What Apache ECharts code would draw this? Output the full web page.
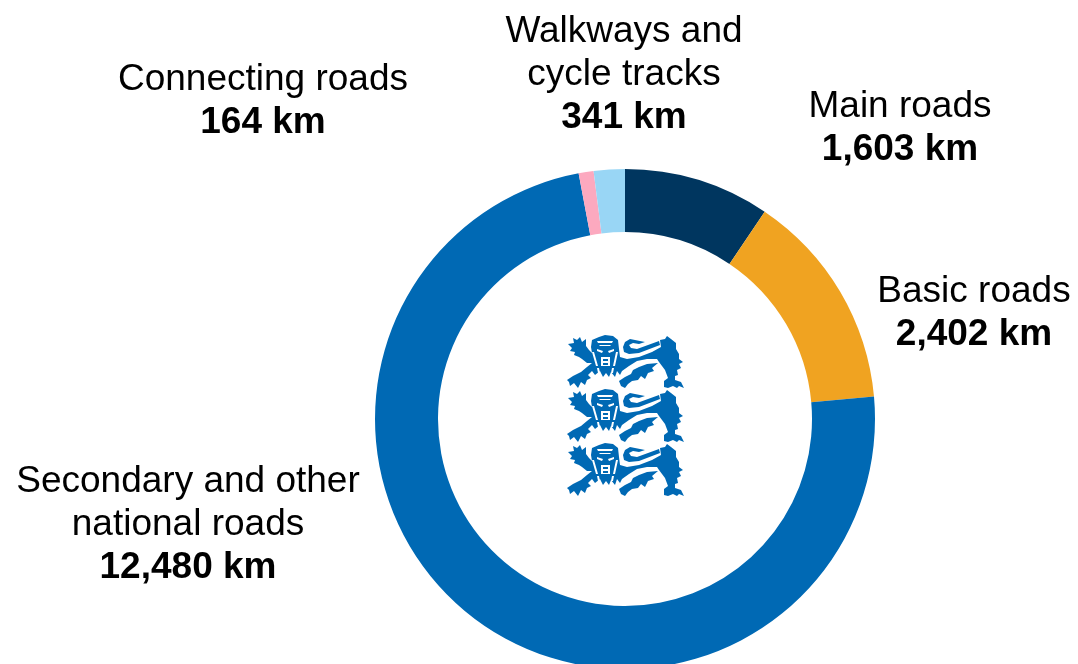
<!DOCTYPE html>
<html>
<head>
<meta charset="utf-8">
<style>
  html, body { margin: 0; padding: 0; background: #fff; }
  #chart { width: 1078px; height: 664px; }
</style>
<script src="https://cdn.jsdelivr.net/npm/echarts@6/dist/echarts.min.js"></script>
</head>
<body>
<div id="chart"></div>
<script>
const names = ['Main roads', 'Basic roads', 'Secondary and other\nnational roads', 'Connecting roads', 'Walkways and\ncycle tracks']
const lengths = [1603, 2402, 12480, 164, 341]
const colors = ['#00365f', '#f0a321', '#0069b4', '#fca9bf', '#99d6f5']
// label anchor (centre of the text block) for each slice
const labelSpots = [[900, 126], [974, 311], [188, 523], [263, 99], [624, 73]]

// one lion, drawn in a 0-117 x 0-53 box, repeated three times
const lionBody = 'M1 9 L7 8 L6 3 L10 5 L13 2 L15 7 L19 4 L19 11 L22 15 L25 18 L24 12 L25 5 L32 2 L38 0 L46 1 L51 5 L52 14 L53 22 L60 24 L72 22 L85 17 L94 12 L93 5 L98 4 L100 1 L104 4 L109 8 L109 14 L112 19 L112 24 L116 27 L112 29 L114 33 L110 35 L111 40 L108 41 L108 45 L114 47 L117 53 L112 51 L110 53 L106 51 L101 53 L97 52 L97 46 L101 43 L98 35 L92 27 L90 24 L80 24 L70 26 L62 31 L55 36 L53 40 L50 36 L48 42 L44 37 L42 42 L39 38 L36 42 L33 36 L28 40 L25 36 L21 40 L24 43 L20 45 L18 50 L14 47 L11 53 L7 48 L3 51 L2 47 L0 45 L6 41 L14 37 L20 32 L25 28 L20 28 L15 24 L12 22 L7 20 L8 17 L3 16 L5 13 Z'
const lionHind = 'M91 28 L85 33 L87 36 L81 38 L78 44 L74 41 L71 45 L65 46 L61 49 L58 53 L54 51 L52 46 L58 42 L64 39 L66 35 L72 32 L80 29 Z M56 12 L58 7 L63 4 L68 5 L78 7 L72 9 L66 8 L62 10 L64 13 L70 14 L92 6 L93 10 L72 18 L62 19 L57 17 Z'
const lionFace = 'M30 6 L46 6 L45 8 L31 8 Z M32 10 L44 10 L43 11 L33 11 Z M30 14 L36 16 L35 18 L30 16 Z M47 14 L41 16 L42 18 L47 16 Z M34 22 L43 22 L43 31 L34 31 Z M25 17 L27 17 L31 31 L29 31 Z M51 17 L49 17 L46 31 L48 31 Z M30 33 L32 33 L33 38 L31 38 Z M45 33 L47 33 L46 38 L44 38 Z'
const lionNose = 'M36 24 L41 24 L41 26 L36 26 Z M36 28 L41 28 L41 30 L36 30 Z'
const lionTops = [335, 389, 443]

echarts.graphic.registerShape('lionBody', echarts.graphic.extendPath(lionBody, {}))
echarts.graphic.registerShape('lionHind', echarts.graphic.extendPath(lionHind, {}))
echarts.graphic.registerShape('lionFace', echarts.graphic.extendPath(lionFace, {}))
echarts.graphic.registerShape('lionNose', echarts.graphic.extendPath(lionNose, {}))

function lion(top) {
  return {
    type: 'group',
    x: 567,
    y: top,
    children: [
      { type: 'lionBody', style: { fill: '#0069b4' } },
      { type: 'lionHind', style: { fill: '#0069b4' } },
      { type: 'lionFace', style: { fill: '#fff' } },
      { type: 'lionNose', style: { fill: '#0069b4' } }
    ]
  }
}

let chart = echarts.init(document.getElementById('chart'), null, { renderer: 'canvas' })

let option = {
  animation: false,
  backgroundColor: '#fff',
  textStyle: { fontFamily: '"Liberation Sans", Arial, sans-serif' },
  series: [{
    type: 'pie',
    center: [625, 419],
    radius: [187, 250],
    startAngle: 90,
    clockwise: true,
    silent: true,
    data: names.map((name, i) => ({
      name: name,
      value: lengths[i],
      itemStyle: { color: colors[i] }
    })),
    label: {
      show: true,
      position: 'outside',
      align: 'center',
      overflow: 'none',
      formatter: (p) => {
        let lines = p.name.split('\n').map(l => `{t|${l}}`).join('\n')
        return `${lines}\n{b|${p.value.toLocaleString('en-US')} km}`
      },
      rich: {
        t: { fontSize: 37, lineHeight: 43, color: '#000', fontFamily: '"Liberation Sans"' },
        b: { fontSize: 37, lineHeight: 43, color: '#000', fontWeight: 'bold', fontFamily: '"Liberation Sans"' }
      }
    },
    labelLine: { show: false },
    labelLayout: (params) => ({
      x: labelSpots[params.dataIndex][0],
      y: labelSpots[params.dataIndex][1] + 2,
      align: 'center',
      verticalAlign: 'middle'
    })
  }],
  graphic: lionTops.map(lion)
}
chart.setOption(option)
</script>
</body>
</html>
